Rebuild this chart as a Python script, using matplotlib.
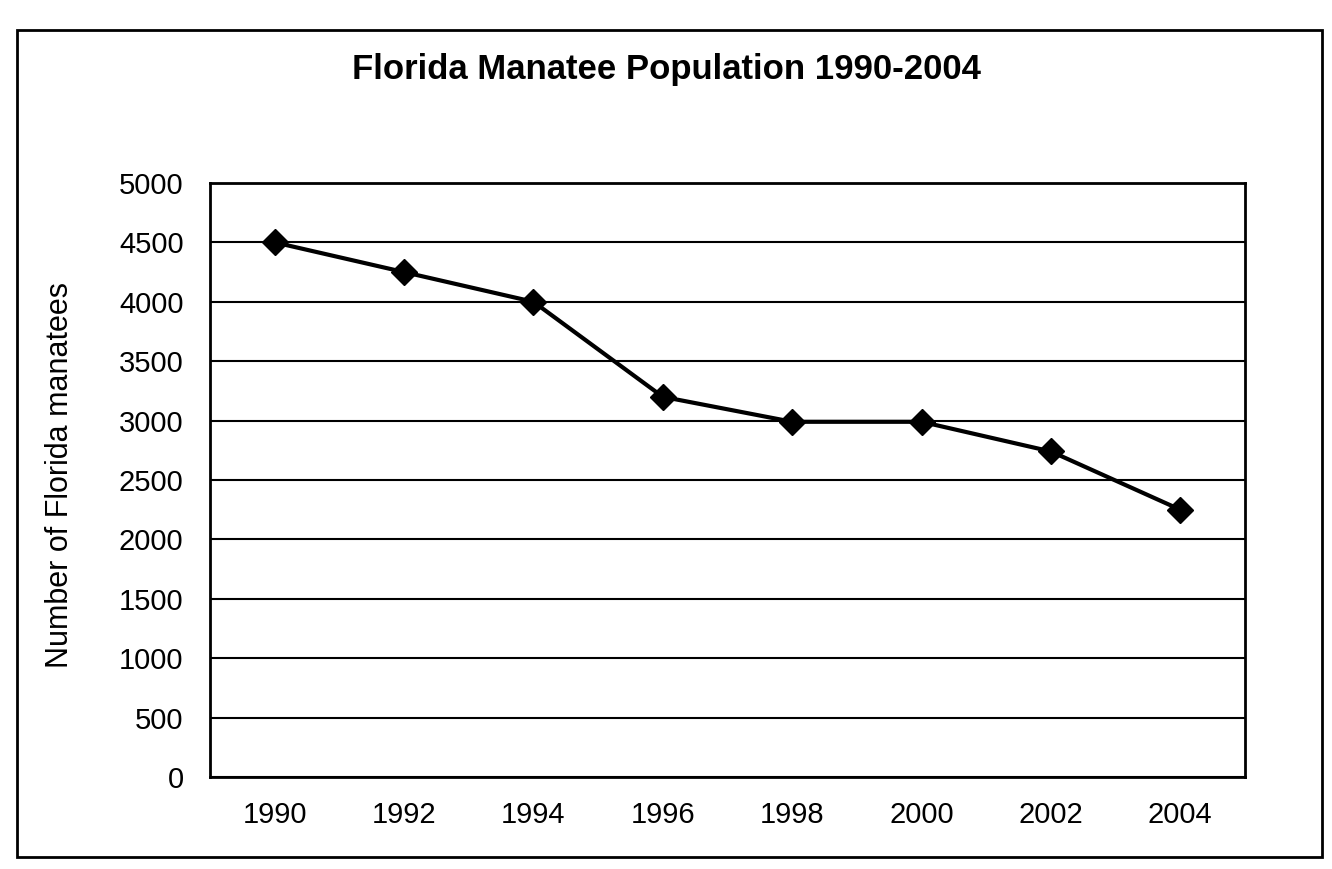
import matplotlib
matplotlib.use("Agg")
import matplotlib.pyplot as plt
from matplotlib.patches import Rectangle

plt.rcParams['font.family'] = ['Liberation Sans', 'DejaVu Sans']

years = ["1990", "1992", "1994", "1996", "1998", "2000", "2002", "2004"]
manatees = [4500, 4250, 4000, 3200, 2990, 2990, 2740, 2250]
y_ticks = [0, 500, 1000, 1500, 2000, 2500, 3000, 3500, 4000, 4500, 5000]

title = "Florida Manatee Population 1990-2004"
ylabel = "Number of Florida manatees"

fig = plt.figure(figsize=(13.32, 8.69), dpi=100)
fig.patch.set_facecolor("white")

# outer chart border
fig.patches.append(Rectangle((17 / 1332, 1 - 857 / 869), (1322 - 17) / 1332, (857 - 30) / 869,
                             transform=fig.transFigure, fill=False, edgecolor="black",
                             linewidth=2.0, zorder=0))

ax = fig.add_axes([210 / 1332, 1 - 777 / 869, (1245 - 210) / 1332, (777 - 183) / 869])
x = list(range(len(years)))
ax.plot(x, manatees, color="black", linewidth=3.0, marker="D", markersize=13,
        markerfacecolor="black", markeredgecolor="black", zorder=3)

ax.set_xlim(-0.5, len(years) - 0.5)
ax.set_ylim(0, 5000)
ax.set_yticks(y_ticks)
ax.set_yticklabels([str(v) for v in y_ticks])
ax.set_xticks(x)
ax.set_xticklabels(years)
ax.tick_params(axis="y", length=0, pad=19, labelsize=21)
ax.tick_params(axis="x", length=0, pad=17, labelsize=21)
ax.yaxis.grid(True, color="black", linewidth=1.5)
ax.set_axisbelow(True)
for side in ["left", "bottom", "top", "right"]:
    ax.spines[side].set_color("black")
    ax.spines[side].set_linewidth(2.0)

fig.text(0.5, 1 - 69 / 869, title, ha="center", va="center",
         fontsize=25, fontweight="bold")
fig.text(60 / 1332, 1 - 475 / 869, ylabel, ha="center", va="center",
         rotation=90, fontsize=22)

fig.savefig("out.png", dpi=100, facecolor="white")
